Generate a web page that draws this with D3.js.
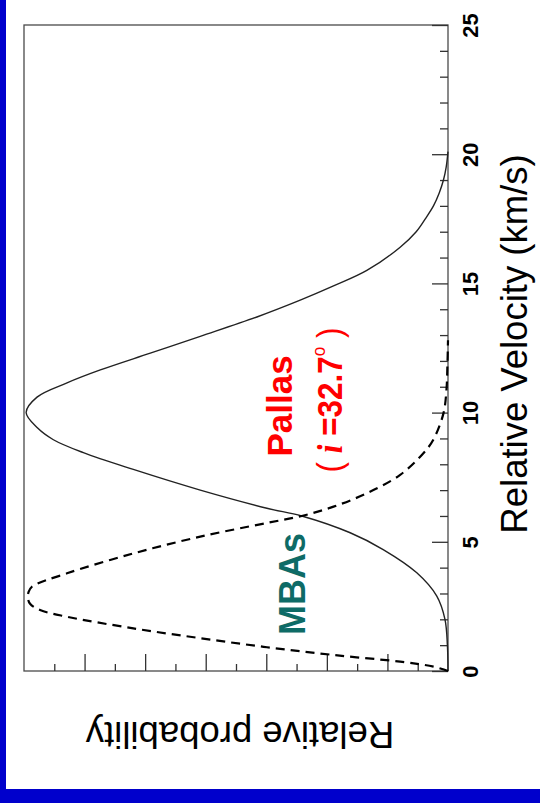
<!DOCTYPE html>
<html>
<head>
<meta charset="utf-8">
<script src="https://cdn.jsdelivr.net/npm/d3@7"></script>
<style>
  html, body { margin: 0; padding: 0; background: #fff; }
  svg { display: block; }
</style>
</head>
<body>
<svg id="chart" width="540" height="803"></svg>
<script>
// Collision velocity distributions: Pallas vs main-belt asteroids (MBAs)
const pallasVelocity = [0, 1.0, 2.0, 2.9, 3.8, 4.7, 5.35, 6.0, 6.3, 7.0, 7.8, 8.45, 8.95, 9.4, 10.0, 10.6, 11.15, 11.65, 12.3, 12.95, 13.7, 14.35, 14.9, 15.5, 16.4, 17.0, 17.5, 18.0, 18.5, 19.0, 19.5, 20.1];
const pallasProb     = [0, 0.02, 0.1, 0.37, 1.03, 2.14, 3.23, 4.83, 5.98, 8.18, 10.39, 12.04, 13.03, 13.55, 13.93, 13.57, 12.58, 11.48, 9.83, 8.18, 6.31, 4.88, 3.78, 2.68, 1.58, 1.05, 0.75, 0.48, 0.29, 0.15, 0.06, 0];

const mbaVelocity = [0, 0.17, 0.36, 0.62, 0.92, 1.27, 1.65, 2.1, 2.36, 2.6, 2.81, 3.05, 3.26, 3.78, 4.55, 5.2, 5.73, 6.0, 6.36, 6.88, 7.59, 8.42, 8.94, 9.97, 10.9, 11.8, 12.8];
const mbaProb     = [0, 0.48, 1.58, 3.78, 5.98, 8.18, 10.39, 12.58, 13.47, 13.8, 13.87, 13.85, 13.74, 12.58, 10.39, 8.18, 5.98, 4.83, 3.78, 2.68, 1.58, 0.82, 0.49, 0.15, 0.05, 0.02, 0];

const velocityMajorTicks = [0, 5, 10, 15, 20, 25];
const velocityMinorTicks = d3.range(0, 26).filter(v => v % 5 !== 0);
const probMajorTicks = [2, 4, 6, 8, 10, 12];
const probMinorTicks = [1, 3, 5, 7, 9, 11, 13];

const velocityTitle = "Relative Velocity (km/s)";
const probTitle = "Relative probability";

const SANS = "'Liberation Sans', Arial, Helvetica, sans-serif";

const svg = d3.select("#chart");

// page background and blue frame strips
svg.append("rect").attr("width", 540).attr("height", 803).attr("fill", "#fff");
svg.append("rect").attr("x", 0).attr("y", 0).attr("width", 6).attr("height", 803).attr("fill", "#0000CC");
svg.append("rect").attr("x", 0).attr("y", 789).attr("width", 540).attr("height", 14).attr("fill", "#0000CC");

// the plot is laid on its side: velocity runs upward, probability runs leftward
const yV = d3.scaleLinear().domain([0, 25]).range([671, 25]);
const xP = d3.scaleLinear().domain([0, 14]).range([448, 24]);

// plot frame
svg.append("rect")
  .attr("x", xP(14)).attr("y", yV(25))
  .attr("width", xP(0) - xP(14)).attr("height", yV(0) - yV(25))
  .attr("fill", "none").attr("stroke", "#4a4a4a").attr("stroke-width", 1.3);

// velocity axis (right edge), ticks pointing inward
const vMinor = svg.append("g").attr("transform", `translate(${xP(0)},0)`)
  .call(d3.axisRight(yV).tickValues(velocityMinorTicks).tickSizeInner(-8).tickSizeOuter(0).tickFormat(""));
const vMajor = svg.append("g").attr("transform", `translate(${xP(0)},0)`)
  .call(d3.axisRight(yV).tickValues(velocityMajorTicks).tickSizeInner(-16).tickSizeOuter(0).tickFormat(d3.format("d")));
[vMinor, vMajor].forEach(g => {
  g.select(".domain").remove();
  g.selectAll(".tick line").attr("stroke", "#333").attr("stroke-width", 1.3);
});
vMajor.selectAll(".tick text")
  .attr("x", null).attr("dy", null)
  .attr("transform", "translate(30,0) rotate(-90)")
  .attr("text-anchor", "middle")
  .attr("font-family", SANS).attr("font-weight", "bold").attr("font-size", 22)
  .attr("fill", "#000");

// probability axis (bottom edge), ticks pointing inward, unlabeled
const pMinor = svg.append("g").attr("transform", `translate(0,${yV(0)})`)
  .call(d3.axisBottom(xP).tickValues(probMinorTicks).tickSizeInner(-7).tickSizeOuter(0).tickFormat(""));
const pMajor = svg.append("g").attr("transform", `translate(0,${yV(0)})`)
  .call(d3.axisBottom(xP).tickValues(probMajorTicks).tickSizeInner(-17).tickSizeOuter(0).tickFormat(""));
[pMinor, pMajor].forEach(g => {
  g.select(".domain").remove();
  g.selectAll(".tick line").attr("stroke", "#333").attr("stroke-width", 1.3);
});

// curves
const line = d3.line()
  .x(d => xP(d.p))
  .y(d => yV(d.v))
  .curve(d3.curveCatmullRom.alpha(0.5));

const pallas = pallasVelocity.map((v, i) => ({ v, p: pallasProb[i] }));
const mbas = mbaVelocity.map((v, i) => ({ v, p: mbaProb[i] }));

svg.append("path").datum(pallas)
  .attr("d", line).attr("fill", "none")
  .attr("stroke", "#222").attr("stroke-width", 1.4);

svg.append("path").datum(mbas)
  .attr("d", line).attr("fill", "none")
  .attr("stroke", "#000").attr("stroke-width", 2.2)
  .attr("stroke-dasharray", "9,6");

// curve labels
svg.append("text")
  .attr("transform", "translate(292,406) rotate(-90)")
  .attr("text-anchor", "middle")
  .attr("font-family", SANS).attr("font-weight", "bold").attr("font-size", 35)
  .attr("fill", "#FF0000")
  .text("Pallas");

const incl = svg.append("text")
  .attr("transform", "translate(342,400) rotate(-90)")
  .attr("text-anchor", "middle")
  .attr("font-family", SANS).attr("font-size", 35)
  .attr("fill", "#FF0000")
  .attr("textLength", 145).attr("lengthAdjust", "spacingAndGlyphs");
incl.append("tspan").text("( ");
incl.append("tspan").attr("font-family", "'Liberation Serif', 'Times New Roman', serif")
  .attr("font-style", "italic").attr("font-weight", "bold").text("i");
incl.append("tspan").attr("font-weight", "bold").text(" =32.7");
incl.append("tspan").attr("font-size", 19).attr("dy", -17).text("o");
incl.append("tspan").attr("dy", 17).text(" )");

svg.append("text")
  .attr("transform", "translate(305,584) rotate(-90)")
  .attr("text-anchor", "middle")
  .attr("font-family", SANS).attr("font-weight", "bold").attr("font-size", 36)
  .attr("fill", "#0E6B66")
  .text("MBAs");

// axis titles
svg.append("text")
  .attr("transform", "translate(527,344) rotate(-90)")
  .attr("text-anchor", "middle")
  .attr("font-family", SANS).attr("font-size", 36.5)
  .attr("fill", "#000")
  .text(velocityTitle);

svg.append("text")
  .attr("transform", "translate(240,722) rotate(180)")
  .attr("text-anchor", "middle")
  .attr("font-family", SANS).attr("font-size", 36.5)
  .attr("fill", "#000")
  .text(probTitle);
</script>
</body>
</html>
